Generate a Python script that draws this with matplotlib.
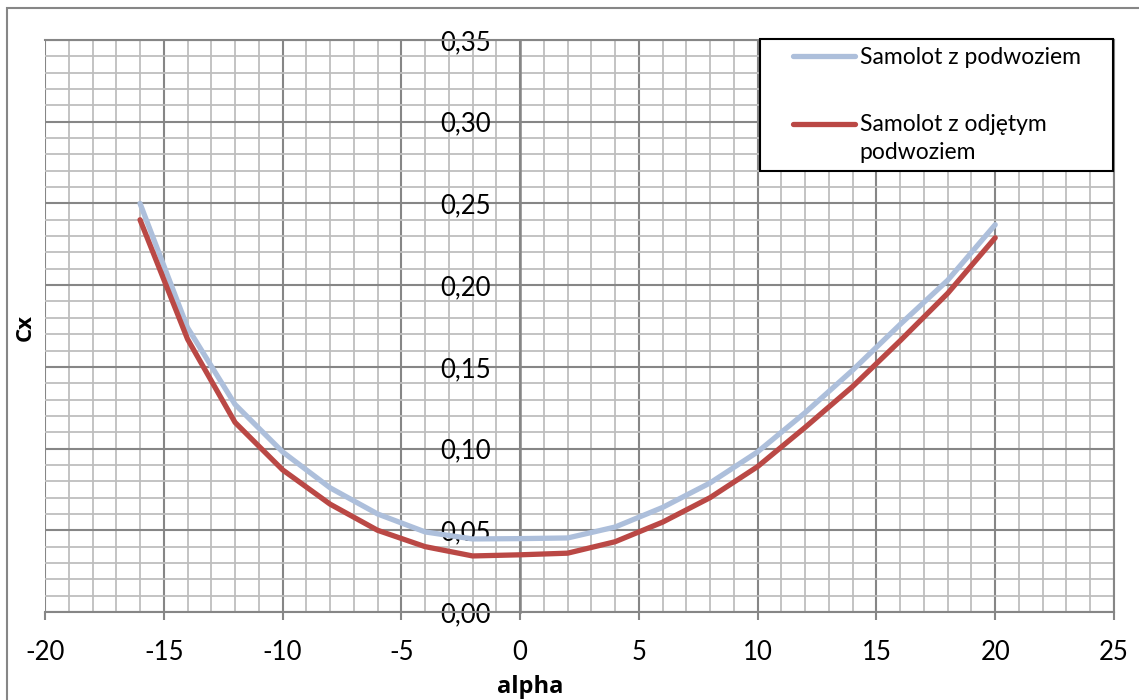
import matplotlib
matplotlib.use("Agg")
import matplotlib.pyplot as plt
from matplotlib.ticker import MultipleLocator, FuncFormatter
from matplotlib.legend_handler import HandlerLine2D
from matplotlib.patches import Rectangle

plt.rcParams["font.family"] = ["Lato", "DejaVu Sans"]
plt.rcParams["axes.unicode_minus"] = False

alpha = [-16, -14, -12, -10, -8, -6, -4, -2, 0, 2, 4, 6, 8, 10, 12, 14, 16, 18, 20]
cx_z_podwoziem = [0.250, 0.174, 0.127, 0.098, 0.076, 0.060, 0.049, 0.0447, 0.0449, 0.0453,
                  0.052, 0.064, 0.079, 0.098, 0.122, 0.148, 0.176, 0.203, 0.237]
cx_bez_podwozia = [0.240, 0.167, 0.116, 0.087, 0.066, 0.050, 0.040, 0.0343, 0.035, 0.036,
                   0.043, 0.055, 0.070, 0.089, 0.113, 0.138, 0.166, 0.195, 0.229]

label_1 = "Samolot z podwoziem"
label_2 = "Samolot z odjętym\npodwoziem"

GRID_MAJOR = "#868686"
GRID_MINOR = "#BEBEBE"


class OffsetLine(HandlerLine2D):
    # legend line that starts later in its box and can be raised to the first text row
    def __init__(self, start=0.0, lift=0.0, **kw):
        super().__init__(**kw)
        self.start = start
        self.lift = lift

    def create_artists(self, legend, orig_handle, xdescent, ydescent, width, height,
                       fontsize, trans):
        arts = super().create_artists(legend, orig_handle, xdescent, ydescent, width,
                                      height, fontsize, trans)
        line = arts[0]
        y = line.get_ydata()[0] + self.lift
        line.set_data([-xdescent + self.start * width, -xdescent + width], [y, y])
        return arts


fig = plt.figure(figsize=(11.39, 7), dpi=100)
ax = fig.add_axes([45 / 1139, 1 - 612 / 700, (1114 - 45) / 1139, (612 - 40) / 700])

l1, = ax.plot(alpha, cx_z_podwoziem, color="#ADBFDB", lw=3.8, label=label_1,
              solid_capstyle="round", solid_joinstyle="round", zorder=3)
l2, = ax.plot(alpha, cx_bez_podwozia, color="#BA4845", lw=3.8, label=label_2,
              solid_capstyle="round", solid_joinstyle="round", zorder=3)

ax.set_xlim(-20, 25)
ax.set_ylim(0, 0.35)
ax.xaxis.set_major_locator(MultipleLocator(5))
ax.xaxis.set_minor_locator(MultipleLocator(1))
ax.yaxis.set_major_locator(MultipleLocator(0.05))
ax.yaxis.set_minor_locator(MultipleLocator(0.01))
ax.yaxis.set_major_formatter(FuncFormatter(lambda v, p: f"{v:.2f}".replace(".", ",")))

ax.grid(which="minor", color=GRID_MINOR, lw=1.3, zorder=0)
ax.grid(which="major", color=GRID_MAJOR, lw=1.5, zorder=1)
ax.set_axisbelow(True)

for side in ["top", "right", "bottom"]:
    ax.spines[side].set_color(GRID_MAJOR)
    ax.spines[side].set_linewidth(1.5)
ax.spines["left"].set_position(("data", 0))
ax.spines["left"].set_color(GRID_MAJOR)
ax.spines["left"].set_linewidth(1.8)

ax.tick_params(axis="x", which="major", direction="out", length=6, width=1.5,
               color=GRID_MAJOR, labelsize=18.5, pad=14)
ax.tick_params(axis="y", which="major", length=0, labelsize=18.5, pad=21)
ax.tick_params(which="minor", length=0)

label_font = dict(fontweight="bold", family=["Open Sans", "DejaVu Sans"])
ax.set_xlabel("alpha", fontsize=17, **label_font)
ax.set_ylabel("Cx", fontsize=16, **label_font)
ax.xaxis.set_label_coords((530 - 45) / 1069, -0.1105)
ax.yaxis.set_label_coords(-0.009, 0.497)

leg = ax.legend(handles=[l1, l2], loc="upper left", mode="expand",
                bbox_to_anchor=(0.669, 0, 0.330, 1.002), borderaxespad=0,
                fontsize=16.5, frameon=True, fancybox=False, framealpha=1,
                edgecolor="black", borderpad=0.35, labelspacing=2.0,
                handlelength=3.8, handletextpad=0.2,
                handler_map={l1: OffsetLine(start=0.28), l2: OffsetLine(start=0.28, lift=11)})
leg.get_frame().set_linewidth(1.5)
for t in leg.get_texts():
    t.set_linespacing(1.45)

fig.patches.append(Rectangle((7 / 1139, -0.05), 1.1, 1 - 8 / 700 + 0.05,
                             transform=fig.transFigure, fill=False,
                             edgecolor=GRID_MAJOR, lw=1.5))

fig.savefig("out.png", dpi=100)
